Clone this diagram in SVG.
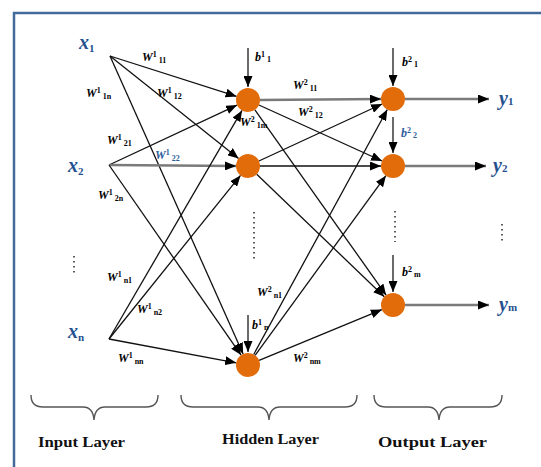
<svg xmlns="http://www.w3.org/2000/svg" width="541" height="467" viewBox="0 0 541 467">
  <style>
    .frame { stroke: #44699b; stroke-width: 2.5; fill: none; }
    .edge { stroke: #111; stroke-width: 1.3; fill: none; marker-end: url(#head); }
    .flat { stroke: #7a7a7a; stroke-width: 2.4; fill: none; marker-end: url(#head); }
    .bias { stroke: #5a5a5a; stroke-width: 1.8; fill: none; marker-end: url(#head); }
    .neuron { fill: #e36c0a; }
    .var { font-family: "Liberation Serif", serif; font-style: italic; font-weight: bold; font-size: 20px; fill: #24508f; }
    .var .idx { font-size: 11px; font-style: normal; }
    .w { font-family: "Liberation Serif", serif; font-style: italic; font-weight: bold; font-size: 12px; fill: #000; }
    .w.blue { fill: #2d5c9c; }
    .w .up { font-size: 8px; font-style: normal; }
    .w .dn { font-size: 8px; font-style: normal; }
    .dots { stroke: #333; stroke-width: 1.6; stroke-dasharray: 1.6 3.4; fill: none; }
    .brace { stroke: #555; stroke-width: 1.4; fill: none; }
    .layer { font-family: "Liberation Serif", serif; font-weight: bold; font-size: 15px; fill: #111; }
  </style>
  <defs>
    <marker id="head" markerUnits="userSpaceOnUse" markerWidth="11" markerHeight="9" refX="11" refY="4.5" orient="auto">
      <path d="M0,0 L11,4.5 L0,9 z" fill="#000"/>
    </marker>
  </defs>

  <!-- frame -->
  <path class="frame" d="M14,467 L14,13 L541,13"/>

  <!-- connectors -->
  <g id="connectors">
    <!-- input to hidden -->
    <line class="edge" x1="110" y1="56" x2="236.6" y2="96.4"/>
    <line class="edge" x1="110" y1="56" x2="238.6" y2="158.5"/>
    <line class="edge" x1="110" y1="56" x2="243.1" y2="354"/>
    <line class="edge" x1="109" y1="165" x2="237.1" y2="105.1"/>
    <line class="flat" x1="109" y1="165" x2="236" y2="166"/>
    <line class="edge" x1="109" y1="165" x2="241.1" y2="355.1"/>
    <line class="edge" x1="109" y1="339" x2="242" y2="110.4"/>
    <line class="edge" x1="109" y1="339" x2="240.5" y2="175.4"/>
    <line class="edge" x1="109" y1="339" x2="236.2" y2="362.8"/>
    <!-- hidden to output -->
    <line class="flat" x1="260" y1="100" x2="381" y2="99"/>
    <line class="edge" x1="258.9" y1="105" x2="382.1" y2="161"/>
    <line class="edge" x1="254.9" y1="109.8" x2="386.1" y2="295.2"/>
    <line class="edge" x1="258.9" y1="161" x2="382.1" y2="104"/>
    <line class="edge" x1="260" y1="166" x2="381" y2="166"/>
    <line class="edge" x1="256.7" y1="174.3" x2="384.3" y2="296.7"/>
    <line class="edge" x1="253.7" y1="354.5" x2="387.3" y2="109.5"/>
    <line class="edge" x1="255.1" y1="355.3" x2="385.9" y2="175.7"/>
    <line class="edge" x1="259.1" y1="360.4" x2="381.9" y2="309.6"/>
    <!-- outputs -->
    <line class="flat" x1="405" y1="99" x2="489" y2="99"/>
    <line class="flat" x1="405" y1="166" x2="486" y2="166"/>
    <line class="flat" x1="405" y1="305" x2="489" y2="305"/>
    <!-- biases -->
    <line class="bias" x1="248" y1="48" x2="248" y2="87"/>
    <line class="bias" x1="248" y1="315" x2="248" y2="352"/>
    <line class="bias" x1="393" y1="48" x2="393" y2="86"/>
    <line class="bias" x1="393" y1="117" x2="393" y2="153"/>
    <line class="bias" x1="393" y1="255" x2="393" y2="292"/>
  </g>

  <!-- input layer -->
  <g id="x1"><text class="var" x="79" y="49">x<tspan class="idx" dy="3">1</tspan></text></g>
  <g id="x2"><text class="var" x="68" y="172">x<tspan class="idx" dy="3">2</tspan></text></g>
  <g id="xn"><text class="var" x="68" y="338">x<tspan class="idx" dy="3">n</tspan></text></g>

  <!-- hidden layer -->
  <g id="h1"><circle class="neuron" cx="248" cy="100" r="12"/></g>
  <g id="h2"><circle class="neuron" cx="248" cy="166" r="12"/></g>
  <g id="hn"><circle class="neuron" cx="248" cy="365" r="12"/></g>

  <!-- output layer -->
  <g id="o1"><circle class="neuron" cx="393" cy="99" r="12"/></g>
  <g id="o2"><circle class="neuron" cx="393" cy="166" r="12"/></g>
  <g id="om"><circle class="neuron" cx="393" cy="305" r="12"/></g>

  <g id="y1"><text class="var" x="499" y="105">y<tspan class="idx">1</tspan></text></g>
  <g id="y2"><text class="var" x="493" y="172">y<tspan class="idx">2</tspan></text></g>
  <g id="ym"><text class="var" x="499" y="311">y<tspan class="idx">m</tspan></text></g>

  <!-- weight labels -->
  <g id="weights">
    <text class="w" x="142" y="61">W<tspan class="up" dy="-4">1</tspan><tspan class="dn" dy="6"> 11</tspan></text>
    <text class="w" x="86" y="97">W<tspan class="up" dy="-4">1</tspan><tspan class="dn" dy="6"> 1n</tspan></text>
    <text class="w" x="157" y="97">W<tspan class="up" dy="-4">1</tspan><tspan class="dn" dy="6"> 12</tspan></text>
    <text class="w" x="107" y="144">W<tspan class="up" dy="-4">1</tspan><tspan class="dn" dy="6"> 21</tspan></text>
    <text class="w blue" x="155" y="159">W<tspan class="up" dy="-4">1</tspan><tspan class="dn" dy="6"> 22</tspan></text>
    <text class="w" x="98" y="199">W<tspan class="up" dy="-4">1</tspan><tspan class="dn" dy="6"> 2n</tspan></text>
    <text class="w" x="107" y="281">W<tspan class="up" dy="-4">1</tspan><tspan class="dn" dy="6"> n1</tspan></text>
    <text class="w" x="137" y="313">W<tspan class="up" dy="-4">1</tspan><tspan class="dn" dy="6"> n2</tspan></text>
    <text class="w" x="118" y="362">W<tspan class="up" dy="-4">1</tspan><tspan class="dn" dy="6"> nn</tspan></text>
    <text class="w" x="293" y="89">W<tspan class="up" dy="-4">2</tspan><tspan class="dn" dy="6"> 11</tspan></text>
    <text class="w" x="298" y="116">W<tspan class="up" dy="-4">2</tspan><tspan class="dn" dy="6"> 12</tspan></text>
    <text class="w" x="240" y="126">W<tspan class="up" dy="-4">2</tspan><tspan class="dn" dy="6"> 1m</tspan></text>
    <text class="w" x="257" y="296">W<tspan class="up" dy="-4">2</tspan><tspan class="dn" dy="6"> n1</tspan></text>
    <text class="w" x="293" y="362">W<tspan class="up" dy="-4">2</tspan><tspan class="dn" dy="6"> nm</tspan></text>
  </g>

  <!-- bias labels -->
  <g id="biases">
    <text class="w" x="255" y="61" font-size="10">b<tspan class="up" dy="-4">1</tspan><tspan class="dn" dy="5"> 1</tspan></text>
    <text class="w" x="252" y="329" font-size="10">b<tspan class="up" dy="-4">1</tspan><tspan class="dn" dy="5"> n</tspan></text>
    <text class="w" x="402" y="66" font-size="10">b<tspan class="up" dy="-4">2</tspan><tspan class="dn" dy="5"> 1</tspan></text>
    <text class="w blue" x="401" y="137" font-size="10">b<tspan class="up" dy="-4">2</tspan><tspan class="dn" dy="5"> 2</tspan></text>
    <text class="w" x="402" y="276" font-size="10">b<tspan class="up" dy="-4">2</tspan><tspan class="dn" dy="5"> m</tspan></text>
  </g>

  <!-- ellipsis dots -->
  <g id="ellipses">
    <line class="dots" x1="74" y1="256" x2="74" y2="276"/>
    <line class="dots" x1="254" y1="212" x2="254" y2="262"/>
    <line class="dots" x1="395" y1="211" x2="395" y2="242"/>
    <line class="dots" x1="502" y1="224" x2="502" y2="244"/>
  </g>

  <!-- layer braces and captions -->
  <g id="input-layer">
    <path class="brace" d="M31,395 Q31,407 43,407 L83,407 Q93,407 94,420 Q95,407 105,407 L146,407 Q158,407 158,395"/>
    <text class="layer" x="38" y="447" textLength="87" lengthAdjust="spacingAndGlyphs">Input Layer</text>
  </g>
  <g id="hidden-layer">
    <path class="brace" d="M181,395 Q181,407 193,407 L258,407 Q268,407 269,420 Q270,407 280,407 L345,407 Q357,407 357,395"/>
    <text class="layer" x="222" y="444" textLength="97" lengthAdjust="spacingAndGlyphs">Hidden Layer</text>
  </g>
  <g id="output-layer">
    <path class="brace" d="M374,395 Q374,407 386,407 L428,407 Q438,407 439,420 Q440,407 450,407 L490,407 Q502,407 502,395"/>
    <text class="layer" x="378" y="447" textLength="109" lengthAdjust="spacingAndGlyphs">Output Layer</text>
  </g>
</svg>
